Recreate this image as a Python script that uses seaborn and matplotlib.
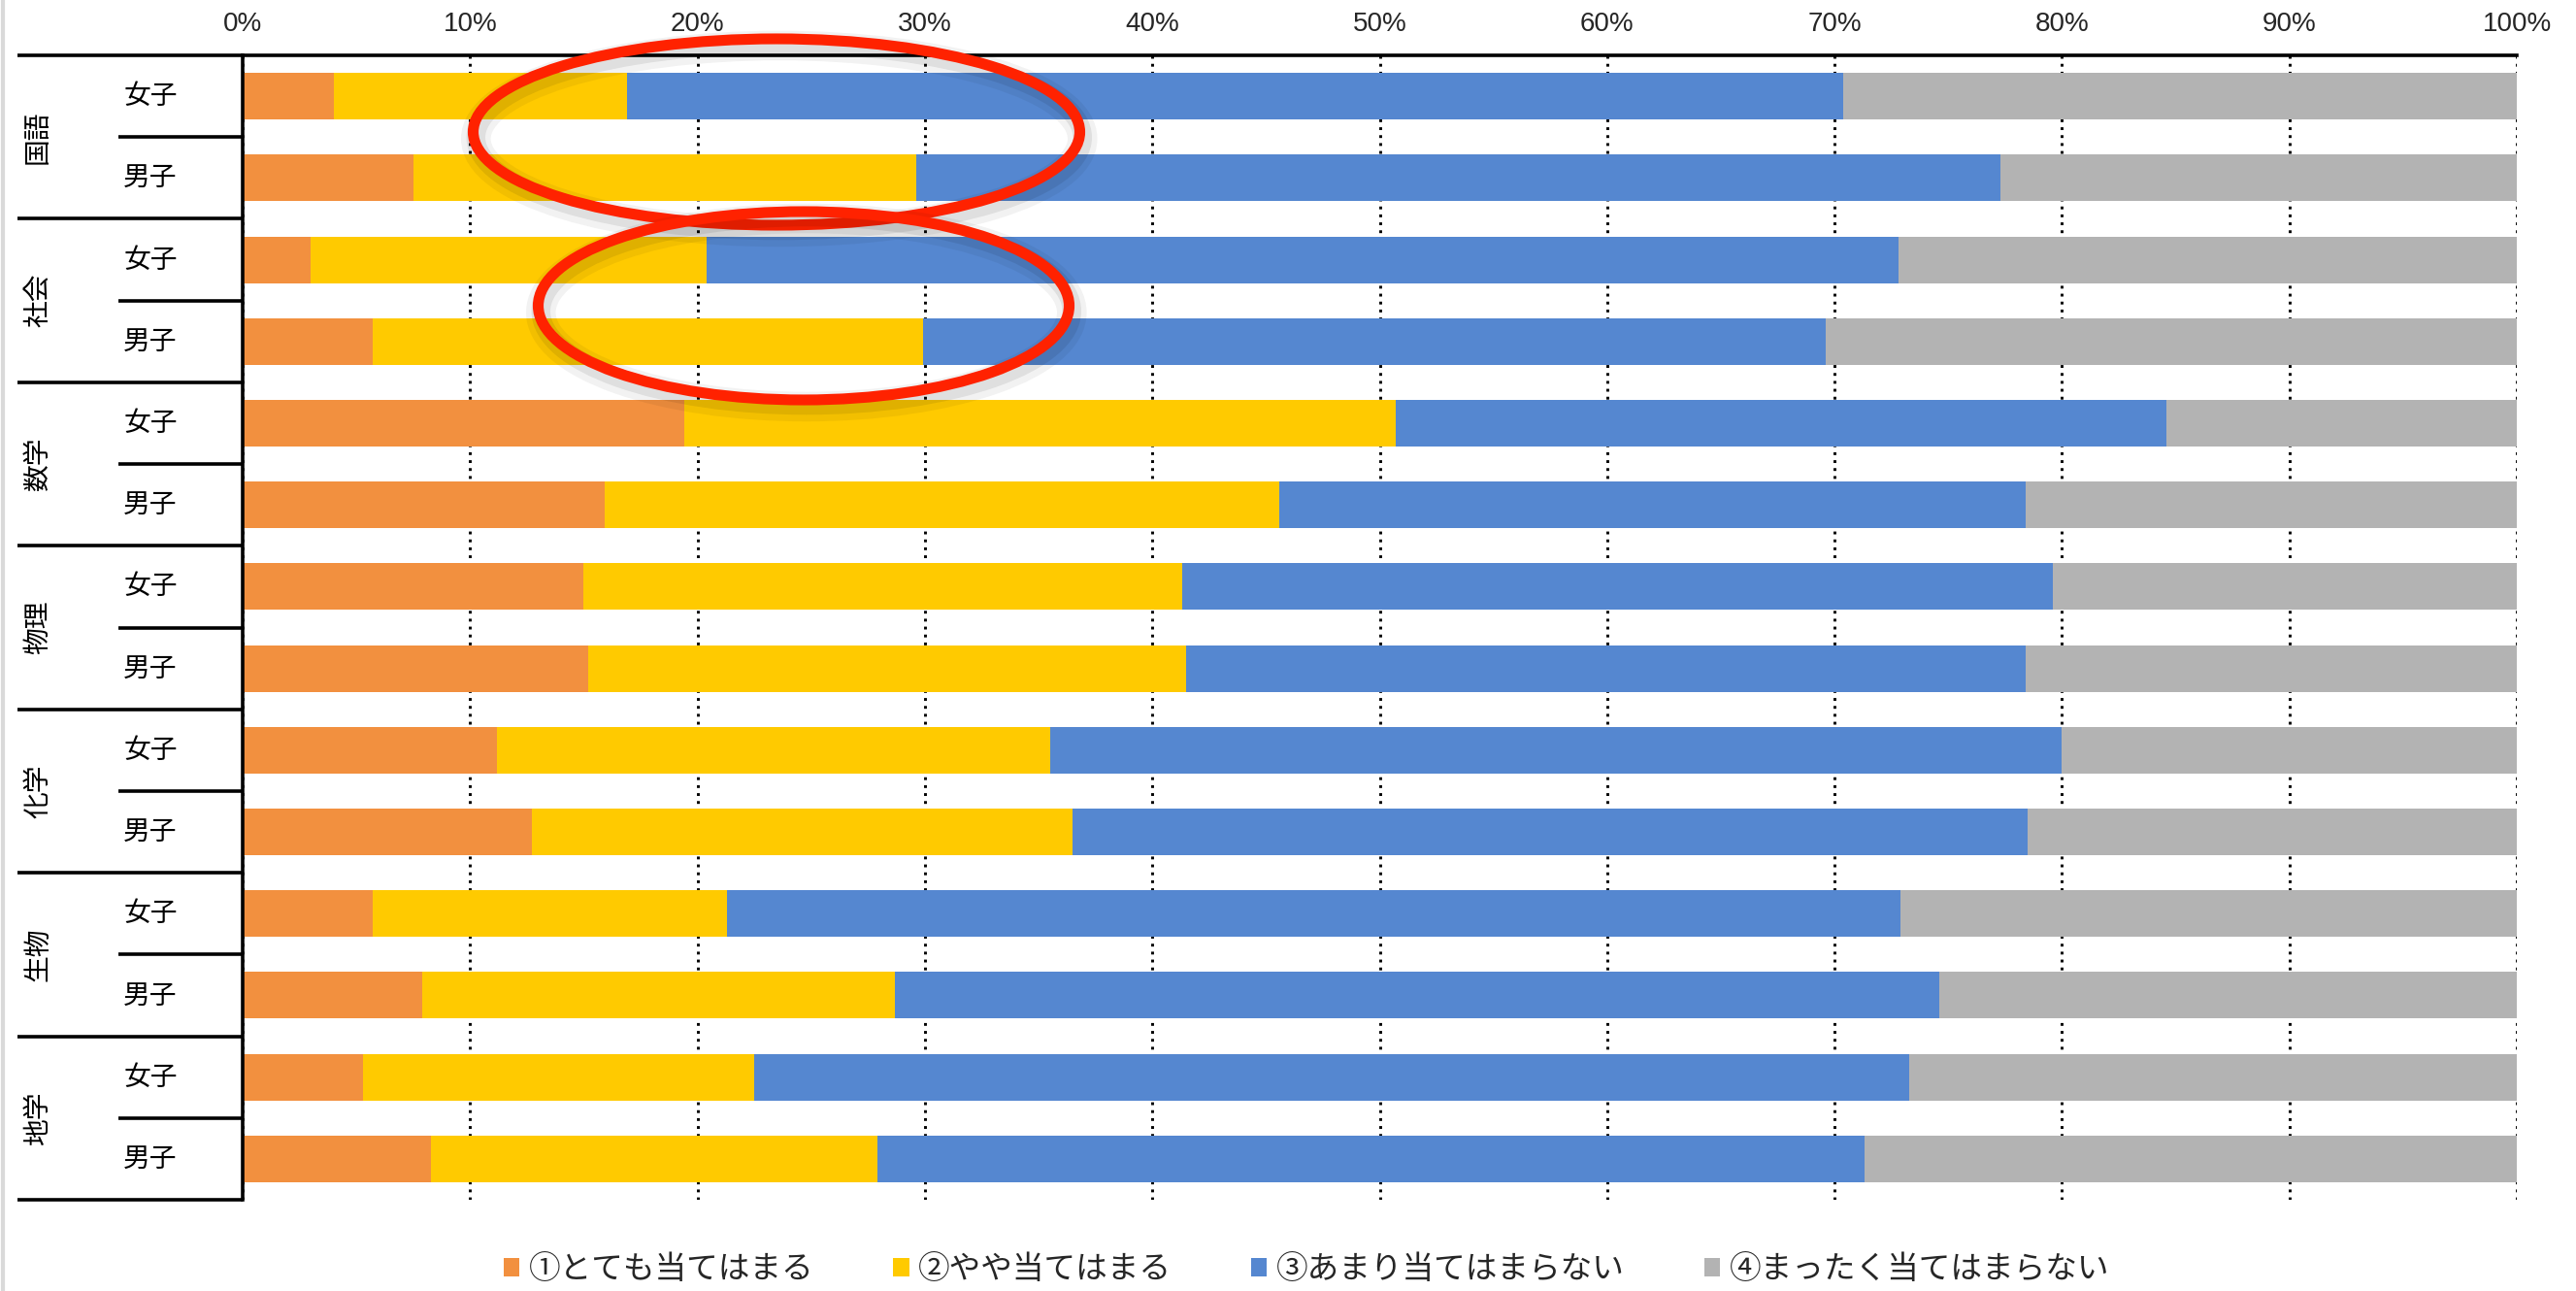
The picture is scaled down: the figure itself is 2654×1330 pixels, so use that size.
import numpy as np
import pandas as pd
import seaborn as sns
import matplotlib
matplotlib.use("Agg")
import matplotlib.pyplot as plt
from matplotlib.patches import Ellipse, Patch
from matplotlib.lines import Line2D
import matplotlib.patheffects as pe
import matplotlib.transforms as mtransforms
from matplotlib import font_manager as fm

# ---------------- data ----------------
subjects = ["国語", "社会", "数学", "物理", "化学", "生物", "地学"]
genders = ["女子", "男子"]
series_names = ["①とても当てはまる", "②やや当てはまる", "③あまり当てはまらない", "④まったく当てはまらない"]

very_true = [4.0, 7.5, 3.0, 5.7, 19.4, 15.9, 15.0, 15.2, 11.2, 12.7, 5.7, 7.9, 5.3, 8.3]
somewhat_true = [12.9, 22.1, 17.4, 24.2, 31.3, 29.7, 26.3, 26.3, 24.3, 23.8, 15.6, 20.8, 17.2, 19.6]
not_much = [53.5, 47.7, 52.4, 39.7, 33.9, 32.8, 38.3, 36.9, 44.5, 42.0, 51.6, 45.9, 50.8, 43.4]
not_at_all = [29.6, 22.7, 27.2, 30.4, 15.4, 21.6, 20.4, 21.6, 20.0, 21.5, 27.1, 25.4, 26.7, 28.7]

xticks = list(range(0, 101, 10))
xtick_labels = [f"{t}%" for t in xticks]

colors = ["#F2903F", "#FFCA00", "#5587D0", "#B3B3B3"]

# ---------------- fonts ----------------
sns.set_theme(style="white")
installed = {f.name for f in fm.fontManager.ttflist}
jp = "Noto Sans CJK JP"
num_font = "Liberation Sans Narrow" if "Liberation Sans Narrow" in installed else "Liberation Sans"
plt.rcParams["font.family"] = [jp, "DejaVu Sans"]

# ---------------- frame ----------------
W, H = 2654, 1330
fig = plt.figure(figsize=(W / 100, H / 100), dpi=100)
fig.patch.set_facecolor("white")
x0, x1, ytop, ybot = 250, 2593, 57, 1236
ax = fig.add_axes([x0 / W, 1 - ybot / H, (x1 - x0) / W, (ybot - ytop) / H])

rows = [f"{s}-{g}" for s in subjects for g in genders]
df = pd.DataFrame({
    "row": rows,
    "c1": very_true,
    "c2": somewhat_true,
    "c3": not_much,
    "c4": not_at_all,
})
df["cum1"] = df["c1"]
df["cum2"] = df["cum1"] + df["c2"]
df["cum3"] = df["cum2"] + df["c3"]
df["cum4"] = df["cum3"] + df["c4"]

for col, color in [("cum4", colors[3]), ("cum3", colors[2]), ("cum2", colors[1]), ("cum1", colors[0])]:
    sns.barplot(data=df, x=col, y="row", orient="h", color=color, width=0.57,
                saturation=1, ax=ax, linewidth=0, zorder=2)

ax.set_xlim(0, 100)
ax.set_ylim(len(rows) - 0.5, -0.5)
ax.set_xticks(xticks)
ax.set_xticklabels(xtick_labels, family=[num_font, "DejaVu Sans"], fontsize=20)
ax.xaxis.tick_top()
ax.tick_params(axis="x", length=0, pad=14)
ax.set_yticks([])
ax.set_xlabel("")
ax.set_ylabel("")
ax.grid(axis="x", color="black", linestyle=(0, (1, 1.8)), linewidth=2.1)
ax.grid(axis="y", visible=False)
ax.set_axisbelow(True)
for side in ["right", "bottom"]:
    ax.spines[side].set_visible(False)
for side in ["top", "left"]:
    ax.spines[side].set_color("black")
    ax.spines[side].set_linewidth(2.6)

# ---------------- left table ----------------
trans = mtransforms.blended_transform_factory(ax.transAxes, ax.transData)
subj_x0 = (18 - x0) / (x1 - x0)
grp_x0 = (122 - x0) / (x1 - x0)
for k in range(len(subjects) + 1):
    b = 2 * k - 0.5
    ax.plot([subj_x0, 0], [b, b], transform=trans, color="black", lw=2.6,
            clip_on=False, solid_capstyle="butt")
for k in range(len(subjects)):
    b = 2 * k + 0.5
    ax.plot([grp_x0, 0], [b, b], transform=trans, color="black", lw=2.6,
            clip_on=False, solid_capstyle="butt")
    ax.text((39 - x0) / (x1 - x0), 2 * k + 0.5, subjects[k], rotation=90,
            ha="center", va="center", transform=trans, fontsize=20, color="black")
for i, r in enumerate(rows):
    g = r.split("-")[1]
    ax.text((155 - x0) / (x1 - x0), i, g, ha="center", va="center",
            transform=trans, fontsize=20, color="black")

# ---------------- legend ----------------
handles = [Patch(facecolor=c, edgecolor="none") for c in colors]
fig.legend(handles, series_names, loc="center", bbox_to_anchor=(1346 / W, 1 - 1308 / H),
           ncol=4, frameon=False, fontsize=23.5, handlelength=0.5, handleheight=0.5,
           handletextpad=0.3, columnspacing=2.5)

# ---------------- annotations (red ellipses) ----------------
for cx, cy, ew, eh in [(800, 136, 625, 192), (828, 315, 547, 194)]:
    e = Ellipse((cx / W, 1 - cy / H), ew / W, eh / H, transform=fig.transFigure,
                fill=False, edgecolor="#FF2200", linewidth=8, zorder=10)
    e.set_path_effects([
        pe.SimpleLineShadow(offset=(2, -5), shadow_color="black", alpha=0.05, linewidth=22),
        pe.SimpleLineShadow(offset=(2, -4), shadow_color="black", alpha=0.08, linewidth=14),
        pe.Normal(),
    ])
    fig.add_artist(e)

# left border of chart area
fig.add_artist(Line2D([3 / W, 3 / W], [0, 1], transform=fig.transFigure,
                      color="#D9D9D9", lw=3))

fig.savefig("out.png", dpi=100, facecolor="white")
